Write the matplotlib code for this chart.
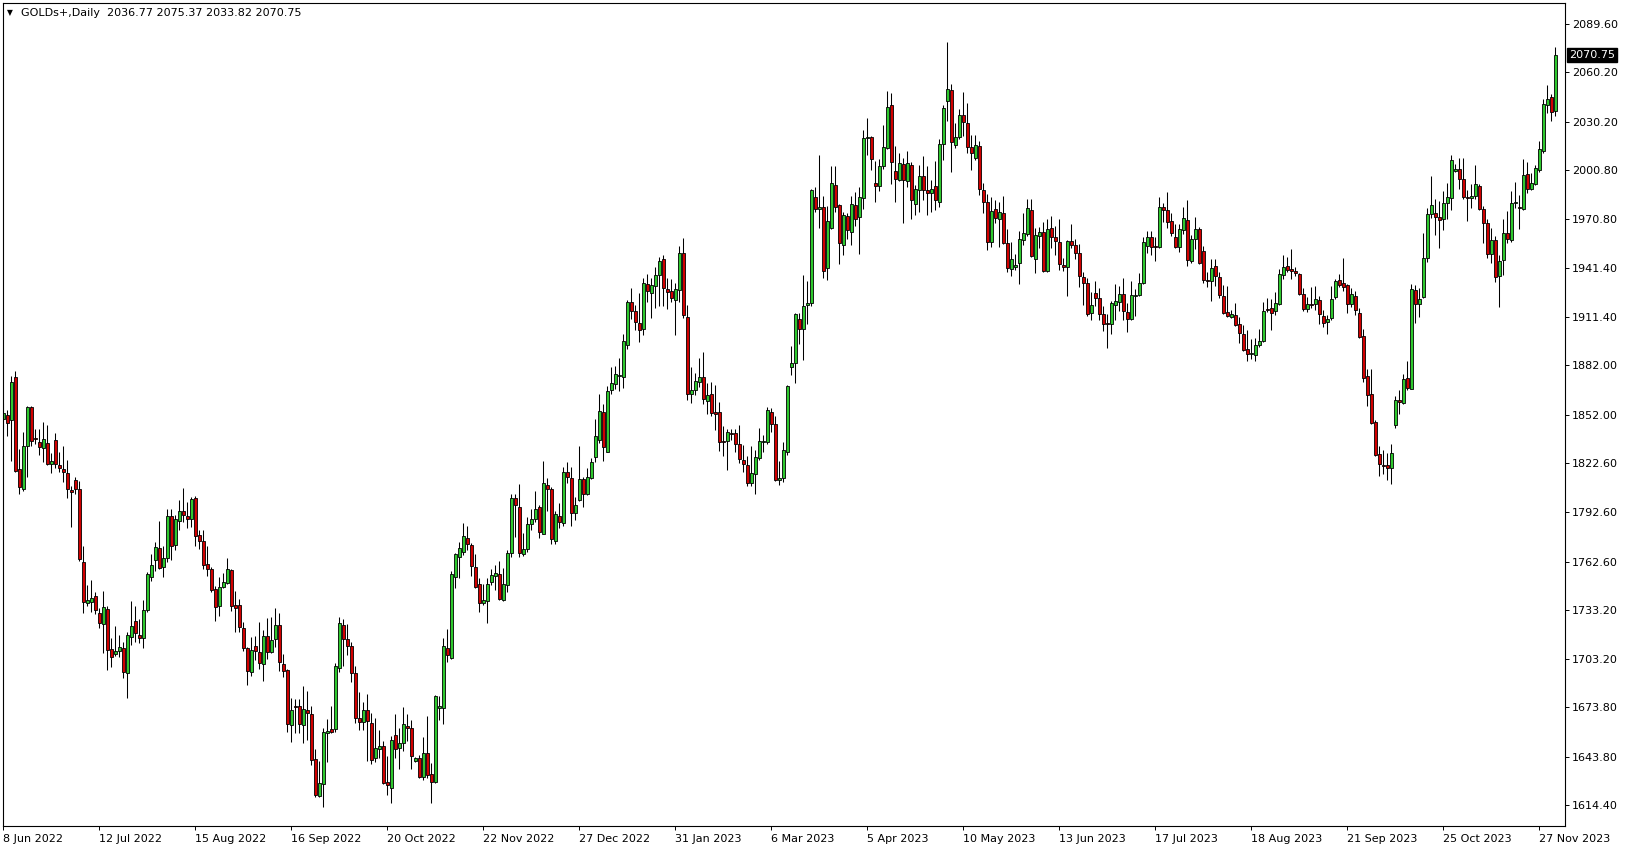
import numpy as np
import matplotlib
matplotlib.use('Agg')
import matplotlib.pyplot as plt
import matplotlib.transforms as mtransforms

# GOLDs+ Daily, Jun 2022 - Dec 2023
symbol = 'GOLDs+,Daily'

opens = [
    1849.1, 1851.5, 1848.5, 1874.7, 1818.7, 1806.5, 1832.9, 1856.4, 1837.8, 1835.1,
    1831.5, 1834.5, 1821.7, 1836.3, 1821.1, 1818.7, 1816.3, 1806.1, 1812.0, 1806.5,
    1762.1, 1737.2, 1737.8, 1741.4, 1731.1, 1724.4, 1733.5, 1709.2, 1706.1, 1707.9,
    1709.8, 1694.6, 1716.5, 1726.4, 1717.9, 1715.9, 1733.1, 1753.4, 1763.8, 1770.9,
    1759.5, 1764.6, 1790.3, 1772.9, 1787.1, 1793.2, 1790.1, 1788.3, 1801.3, 1778.6,
    1775.1, 1761.1, 1758.1, 1745.9, 1735.8, 1747.3, 1749.8, 1757.5, 1736.2, 1736.2,
    1722.0, 1709.8, 1695.6, 1711.4, 1707.4, 1700.1, 1717.1, 1707.4, 1715.3, 1723.8,
    1700.1, 1696.4, 1663.0, 1674.6, 1674.5, 1663.0, 1672.1, 1669.7, 1642.3, 1619.8,
    1627.1, 1658.1, 1660.5, 1661.0, 1697.6, 1723.8, 1715.3, 1711.0, 1694.6, 1667.2,
    1664.8, 1672.1, 1664.2, 1642.9, 1648.4, 1650.2, 1628.3, 1625.0, 1657.1, 1649.0,
    1652.0, 1662.6, 1661.3, 1641.5, 1643.1, 1631.3, 1645.9, 1633.1, 1628.7, 1673.3,
    1673.3, 1709.8, 1703.7, 1753.0, 1765.2, 1768.2, 1776.7, 1772.5, 1759.1, 1748.7,
    1737.2, 1738.4, 1750.0, 1753.6, 1754.8, 1739.0, 1748.1, 1767.6, 1801.0, 1795.6,
    1767.0, 1770.0, 1785.4, 1788.7, 1795.6, 1779.1, 1808.9, 1806.5, 1774.9, 1790.5,
    1785.8, 1817.1, 1813.2, 1791.9, 1799.8, 1812.6, 1803.5, 1813.2, 1826.0, 1836.3,
    1853.4, 1829.0, 1866.7, 1870.4, 1875.3, 1874.7, 1894.1, 1920.3, 1914.8, 1907.5,
    1903.9, 1931.2, 1925.8, 1930.0, 1936.7, 1946.4, 1928.2, 1927.0, 1921.5, 1927.6,
    1950.1, 1911.2, 1864.3, 1866.7, 1871.6, 1874.7, 1860.1, 1864.3, 1853.4, 1853.4,
    1835.7, 1835.7, 1840.6, 1840.6, 1833.9, 1824.2, 1821.1, 1810.2, 1815.6, 1825.4,
    1835.1, 1835.1, 1853.4, 1846.1, 1812.2, 1813.2, 1829.4, 1880.7, 1883.2, 1909.9,
    1903.9, 1918.7, 1919.7, 1984.1, 1976.9, 1978.1, 1941.0, 1965.3, 1991.5, 1979.3,
    1954.9, 1972.6, 1962.9, 1979.3, 1972.0, 1983.5, 2020.0, 2020.6, 1992.7, 1990.8,
    2003.0, 2014.0, 2040.1, 2000.0, 1994.5, 2004.2, 1994.3, 2003.6, 1979.9, 1988.4,
    1996.9, 1988.4, 1987.0, 1990.8, 1981.1, 2016.4, 2042.6, 2049.3, 2015.8, 2020.7,
    2034.0, 2029.2, 2014.6, 2007.9, 2015.2, 1988.4, 1981.1, 1956.8, 1976.9, 1970.8,
    1974.4, 1956.2, 1940.4, 1941.6, 1944.0, 1958.0, 1961.7, 1976.3, 1946.4, 1960.4,
    1962.9, 1939.1, 1965.3, 1959.8, 1956.8, 1942.8, 1941.6, 1957.4, 1955.0, 1950.1,
    1935.5, 1931.8, 1913.6, 1925.8, 1922.7, 1913.0, 1907.5, 1906.9, 1918.5, 1920.3,
    1925.2, 1914.2, 1909.9, 1923.9, 1924.5, 1931.8, 1954.3, 1959.8, 1954.3, 1953.7,
    1978.1, 1976.2, 1969.6, 1959.8, 1954.1, 1964.1, 1970.2, 1945.2, 1958.6, 1964.7,
    1951.3, 1933.7, 1933.0, 1942.2, 1935.5, 1923.9, 1914.2, 1911.2, 1912.4, 1906.9,
    1900.8, 1891.7, 1888.6, 1888.0, 1894.1, 1896.6, 1916.0, 1916.6, 1914.8, 1919.1,
    1936.7, 1942.2, 1940.4, 1939.1, 1937.3, 1925.2, 1916.0, 1919.1, 1919.1, 1921.5,
    1911.8, 1908.1, 1910.5, 1923.3, 1933.7, 1931.8, 1930.6, 1919.1, 1923.9, 1913.6,
    1899.6, 1875.3, 1864.3, 1847.3, 1827.8, 1821.1, 1821.1, 1819.3, 1845.5, 1860.7,
    1858.8, 1874.1, 1867.4, 1927.6, 1919.1, 1923.3, 1947.0, 1973.8, 1974.4, 1972.0,
    1970.8, 1980.5, 1983.5, 2000.0, 2001.2, 1995.1, 1984.1, 1983.5, 1984.7, 1990.8,
    1976.8, 1968.3, 1949.5, 1958.0, 1936.1, 1945.8, 1962.3, 1958.0, 1980.5, 1978.1,
    1976.8, 1998.1, 1989.0, 1992.1, 2000.6, 2012.1, 2040.1, 2045.0, 2036.77,
]

highs = [
    1858.8, 1854.8, 1875.5, 1878.5, 1831.1, 1841.4, 1857.2, 1857.0, 1843.2, 1843.2,
    1847.7, 1845.7, 1828.4, 1840.8, 1829.4, 1833.1, 1824.2, 1808.6, 1814.0, 1811.6,
    1772.0, 1748.3, 1751.4, 1744.1, 1734.1, 1744.5, 1735.5, 1715.9, 1723.4, 1717.9,
    1713.4, 1719.9, 1738.6, 1735.6, 1727.7, 1739.2, 1756.0, 1767.2, 1774.7, 1787.3,
    1772.1, 1794.6, 1794.6, 1790.9, 1800.1, 1807.1, 1798.6, 1801.7, 1802.2, 1781.8,
    1781.8, 1772.3, 1759.5, 1747.7, 1753.4, 1755.4, 1764.6, 1758.3, 1744.7, 1739.8,
    1726.0, 1710.8, 1716.9, 1717.5, 1726.0, 1721.0, 1728.5, 1728.7, 1734.1, 1731.1,
    1706.2, 1697.0, 1679.4, 1678.8, 1678.8, 1686.7, 1683.6, 1674.5, 1648.4, 1641.5,
    1661.5, 1666.6, 1674.5, 1700.7, 1728.7, 1727.5, 1724.4, 1713.9, 1699.3, 1683.0,
    1677.0, 1681.8, 1670.3, 1667.2, 1659.9, 1653.6, 1644.5, 1656.3, 1669.9, 1661.3,
    1674.1, 1669.9, 1666.2, 1643.5, 1644.7, 1655.9, 1668.6, 1639.8, 1681.2, 1680.6,
    1715.9, 1721.6, 1756.9, 1767.8, 1774.3, 1785.9, 1784.0, 1773.7, 1767.0, 1752.4,
    1748.7, 1752.4, 1757.9, 1760.3, 1762.7, 1758.5, 1769.4, 1803.5, 1803.7, 1809.5,
    1779.7, 1789.9, 1794.7, 1805.7, 1796.8, 1823.9, 1813.2, 1807.7, 1793.1, 1798.0,
    1820.3, 1823.1, 1819.9, 1802.0, 1832.7, 1813.8, 1819.3, 1825.4, 1849.1, 1864.3,
    1858.2, 1869.2, 1880.7, 1881.3, 1886.4, 1901.2, 1921.5, 1928.8, 1918.5, 1925.8,
    1934.9, 1937.3, 1934.9, 1941.6, 1947.9, 1948.9, 1934.9, 1934.3, 1931.8, 1954.3,
    1959.4, 1918.5, 1880.7, 1877.1, 1886.2, 1889.9, 1871.0, 1871.6, 1869.8, 1859.4,
    1844.8, 1843.0, 1843.0, 1843.4, 1845.5, 1833.3, 1826.6, 1832.7, 1830.2, 1843.6,
    1839.4, 1856.4, 1855.8, 1851.1, 1823.9, 1835.1, 1870.0, 1893.7, 1913.6, 1913.6,
    1936.7, 1933.1, 1989.0, 1990.2, 2009.7, 1984.8, 1978.7, 2003.0, 2003.0, 1980.3,
    1975.0, 1974.4, 1984.8, 1987.2, 1990.2, 2024.9, 2032.2, 2021.3, 2006.1, 2007.3,
    2027.9, 2048.6, 2047.4, 2015.2, 2010.9, 2007.9, 2012.3, 2005.9, 1991.5, 2003.6,
    2009.1, 2003.0, 1994.5, 2006.1, 2019.4, 2040.1, 2078.5, 2052.9, 2029.2, 2037.7,
    2048.0, 2041.3, 2021.9, 2021.9, 2018.2, 1992.7, 1986.0, 1984.2, 1982.3, 1981.1,
    1984.8, 1964.7, 1956.8, 1949.5, 1963.5, 1974.4, 1983.0, 1983.0, 1965.3, 1965.9,
    1968.9, 1970.8, 1972.6, 1966.5, 1970.8, 1947.0, 1958.0, 1967.7, 1958.6, 1955.6,
    1938.5, 1934.9, 1926.4, 1933.0, 1928.8, 1917.9, 1913.0, 1920.9, 1931.2, 1930.0,
    1934.9, 1919.7, 1933.0, 1928.2, 1937.9, 1959.8, 1963.5, 1963.5, 1959.8, 1984.2,
    1980.5, 1987.4, 1974.4, 1967.7, 1967.7, 1978.1, 1982.3, 1961.0, 1972.0, 1965.9,
    1954.3, 1938.5, 1946.4, 1946.4, 1938.5, 1930.6, 1930.0, 1915.4, 1919.7, 1911.2,
    1906.3, 1903.2, 1897.8, 1898.4, 1903.8, 1920.3, 1922.7, 1922.1, 1926.4, 1940.4,
    1948.9, 1947.7, 1952.5, 1941.6, 1937.9, 1928.8, 1923.3, 1929.4, 1930.0, 1923.9,
    1915.4, 1912.4, 1930.0, 1934.3, 1937.3, 1947.0, 1931.2, 1928.8, 1927.0, 1916.6,
    1903.9, 1879.5, 1879.5, 1848.5, 1832.7, 1830.2, 1828.4, 1833.9, 1863.1, 1866.9,
    1876.5, 1884.4, 1931.2, 1930.6, 1928.8, 1962.3, 1977.5, 1997.1, 1982.9, 1981.7,
    1987.8, 1992.7, 2009.7, 2004.6, 2007.9, 2007.9, 1988.4, 1992.1, 2003.8, 1992.1,
    1978.7, 1970.8, 1965.3, 1960.4, 1948.9, 1970.8, 1975.6, 1987.8, 1993.3, 1985.4,
    2007.3, 2005.4, 1998.8, 2003.6, 2018.2, 2043.8, 2052.3, 2046.8, 2075.37,
]

lows = [
    1843.6, 1839.2, 1824.0, 1817.3, 1803.9, 1805.8, 1814.2, 1833.1, 1833.9, 1827.4,
    1822.9, 1821.3, 1816.3, 1819.7, 1817.3, 1811.2, 1801.5, 1783.4, 1803.5, 1763.1,
    1731.1, 1735.3, 1731.7, 1730.5, 1722.0, 1706.7, 1696.4, 1698.2, 1704.9, 1704.3,
    1691.5, 1679.8, 1711.6, 1713.9, 1712.8, 1710.2, 1732.1, 1750.8, 1756.8, 1758.3,
    1753.4, 1762.1, 1763.8, 1769.8, 1782.0, 1786.5, 1782.8, 1783.8, 1771.9, 1770.2,
    1758.1, 1754.0, 1743.9, 1726.6, 1729.7, 1746.2, 1748.8, 1732.7, 1719.5, 1720.0,
    1708.4, 1687.5, 1693.0, 1702.7, 1697.0, 1690.1, 1703.1, 1707.0, 1710.4, 1695.8,
    1692.6, 1659.1, 1653.0, 1658.5, 1658.5, 1652.4, 1654.2, 1638.6, 1619.6, 1619.4,
    1613.5, 1640.5, 1658.1, 1658.7, 1695.2, 1699.3, 1705.6, 1689.5, 1664.2, 1660.0,
    1660.0, 1641.1, 1639.2, 1640.5, 1642.9, 1627.5, 1620.4, 1615.9, 1642.9, 1636.6,
    1647.6, 1653.6, 1636.6, 1640.5, 1630.7, 1629.7, 1630.7, 1615.5, 1628.1, 1666.0,
    1663.5, 1701.3, 1703.1, 1746.3, 1752.4, 1766.4, 1769.4, 1753.6, 1746.3, 1731.7,
    1735.9, 1725.0, 1748.1, 1745.1, 1739.0, 1738.4, 1743.9, 1765.5, 1777.7, 1765.1,
    1766.2, 1768.2, 1781.8, 1786.8, 1776.7, 1779.1, 1793.5, 1773.0, 1773.0, 1782.8,
    1784.2, 1810.2, 1784.0, 1787.6, 1799.2, 1795.9, 1802.9, 1812.6, 1822.9, 1834.5,
    1823.9, 1829.0, 1864.3, 1867.3, 1866.1, 1868.0, 1891.7, 1909.9, 1903.2, 1896.0,
    1900.2, 1920.3, 1910.9, 1916.6, 1917.8, 1917.8, 1916.0, 1920.3, 1900.2, 1920.3,
    1910.9, 1860.6, 1858.8, 1863.7, 1868.6, 1858.2, 1852.1, 1850.9, 1842.4, 1829.6,
    1826.6, 1818.1, 1836.3, 1829.0, 1822.3, 1816.9, 1808.3, 1808.3, 1803.5, 1824.2,
    1829.0, 1833.9, 1841.2, 1811.4, 1809.1, 1811.2, 1827.4, 1875.9, 1871.0, 1894.7,
    1885.0, 1906.9, 1917.8, 1975.0, 1965.3, 1934.9, 1933.7, 1964.8, 1975.0, 1943.4,
    1948.9, 1958.6, 1954.9, 1966.5, 1949.5, 1976.9, 2009.7, 2000.6, 1981.1, 1987.8,
    2001.2, 2013.4, 1992.1, 1981.1, 1993.9, 1968.7, 1990.2, 1971.2, 1973.6, 1975.4,
    1982.7, 1973.6, 1975.4, 1976.7, 1978.5, 2006.7, 2030.4, 1999.4, 2014.0, 2019.4,
    2021.3, 2010.9, 2000.6, 2006.7, 1985.4, 1974.4, 1951.9, 1953.7, 1968.3, 1953.7,
    1955.6, 1938.5, 1936.1, 1939.8, 1931.2, 1955.0, 1960.4, 1947.7, 1937.9, 1953.1,
    1938.5, 1938.5, 1953.1, 1948.9, 1939.7, 1939.1, 1923.9, 1953.1, 1946.4, 1929.4,
    1918.5, 1911.8, 1909.3, 1917.9, 1909.3, 1902.6, 1892.3, 1900.8, 1909.3, 1914.8,
    1909.3, 1902.0, 1909.3, 1911.8, 1923.9, 1931.2, 1950.1, 1948.9, 1945.2, 1953.1,
    1968.9, 1965.3, 1960.4, 1953.1, 1950.7, 1961.6, 1942.2, 1944.0, 1952.5, 1943.4,
    1931.8, 1929.4, 1920.9, 1930.0, 1922.7, 1913.0, 1911.2, 1910.5, 1905.7, 1895.3,
    1890.5, 1884.4, 1885.6, 1884.4, 1892.9, 1896.0, 1914.2, 1903.2, 1912.4, 1918.5,
    1934.3, 1938.5, 1934.3, 1936.1, 1924.5, 1914.8, 1914.2, 1916.6, 1915.4, 1906.9,
    1905.1, 1900.8, 1909.3, 1922.1, 1929.4, 1927.0, 1913.6, 1917.2, 1912.4, 1898.4,
    1871.6, 1857.0, 1846.1, 1826.6, 1814.4, 1815.6, 1812.0, 1809.6, 1843.6, 1852.2,
    1858.2, 1866.7, 1867.4, 1907.5, 1911.2, 1922.7, 1944.6, 1971.4, 1961.0, 1953.1,
    1964.1, 1970.8, 1976.2, 1999.5, 1989.0, 1982.9, 1969.6, 1977.5, 1982.9, 1976.2,
    1956.2, 1947.0, 1944.0, 1932.4, 1917.2, 1936.7, 1956.2, 1956.8, 1977.5, 1964.7,
    1976.2, 1986.6, 1988.4, 1991.5, 1999.4, 2010.9, 2035.3, 2030.4, 2033.82,
]

closes = [
    1852.8, 1847.1, 1871.6, 1817.7, 1807.7, 1832.9, 1856.6, 1836.1, 1836.9, 1832.1,
    1836.9, 1821.7, 1823.5, 1821.7, 1819.3, 1816.9, 1806.5, 1804.7, 1806.5, 1764.0,
    1737.8, 1739.0, 1740.2, 1732.9, 1725.0, 1734.7, 1708.6, 1704.3, 1707.9, 1710.4,
    1695.2, 1717.7, 1723.2, 1718.9, 1716.3, 1733.1, 1755.0, 1760.5, 1771.5, 1758.9,
    1764.6, 1790.3, 1772.3, 1788.7, 1793.2, 1791.1, 1788.7, 1800.7, 1778.4, 1774.9,
    1760.5, 1757.9, 1745.5, 1735.2, 1746.9, 1750.4, 1757.9, 1735.8, 1734.5, 1723.0,
    1709.8, 1696.2, 1708.8, 1708.4, 1701.1, 1717.1, 1707.4, 1714.7, 1723.8, 1701.3,
    1695.8, 1663.6, 1672.1, 1674.4, 1663.6, 1672.7, 1670.3, 1641.7, 1620.8, 1627.7,
    1658.7, 1659.3, 1659.1, 1698.9, 1725.0, 1715.3, 1711.0, 1694.6, 1667.2, 1664.8,
    1672.1, 1665.4, 1641.7, 1649.0, 1650.6, 1628.1, 1626.5, 1653.9, 1648.4, 1652.0,
    1663.8, 1661.5, 1644.1, 1643.1, 1631.3, 1645.9, 1632.5, 1628.7, 1680.6, 1674.5,
    1711.0, 1705.5, 1755.0, 1767.2, 1770.6, 1778.0, 1773.1, 1759.7, 1747.3, 1737.2,
    1739.0, 1748.7, 1754.2, 1755.4, 1740.0, 1748.7, 1767.6, 1801.0, 1796.8, 1767.6,
    1770.2, 1785.4, 1788.5, 1794.3, 1780.3, 1810.2, 1806.5, 1776.3, 1791.3, 1786.6,
    1817.1, 1813.8, 1791.9, 1796.8, 1812.6, 1803.5, 1813.8, 1822.9, 1838.8, 1854.0,
    1832.1, 1866.1, 1871.0, 1876.5, 1875.9, 1896.6, 1920.3, 1914.8, 1908.1, 1903.2,
    1931.8, 1927.0, 1930.6, 1936.7, 1945.2, 1928.8, 1926.4, 1922.7, 1928.2, 1950.1,
    1912.4, 1864.3, 1866.7, 1872.2, 1874.7, 1861.3, 1863.7, 1852.7, 1852.1, 1835.1,
    1835.1, 1841.2, 1840.0, 1833.9, 1824.8, 1821.7, 1810.2, 1816.3, 1826.0, 1835.7,
    1835.7, 1854.6, 1846.1, 1812.2, 1813.2, 1830.2, 1869.2, 1883.2, 1913.0, 1903.9,
    1917.8, 1919.7, 1988.4, 1976.9, 1978.1, 1939.1, 1969.6, 1992.7, 1978.1, 1956.2,
    1973.2, 1964.1, 1979.9, 1970.8, 1984.1, 2020.0, 2020.6, 2007.3, 1990.8, 2003.0,
    2014.6, 2038.9, 2005.4, 1995.1, 2004.8, 1994.5, 2004.8, 1982.3, 1989.0, 1996.9,
    1988.4, 1987.0, 1989.0, 1982.3, 2016.4, 2038.3, 2049.9, 2017.6, 2020.7, 2034.0,
    2029.8, 2014.6, 2010.9, 2015.8, 1989.0, 1981.5, 1956.8, 1975.6, 1971.4, 1975.0,
    1956.4, 1941.0, 1946.9, 1942.8, 1958.6, 1962.3, 1977.5, 1948.2, 1961.0, 1962.9,
    1939.1, 1964.7, 1959.8, 1957.4, 1943.4, 1941.6, 1957.4, 1955.0, 1950.1, 1936.1,
    1931.8, 1913.0, 1918.5, 1922.7, 1913.0, 1906.9, 1906.9, 1919.7, 1920.9, 1925.2,
    1914.8, 1909.9, 1924.5, 1924.5, 1931.8, 1956.8, 1959.8, 1953.7, 1953.7, 1978.1,
    1976.2, 1968.9, 1962.3, 1954.1, 1964.7, 1971.4, 1945.8, 1958.6, 1964.7, 1944.0,
    1933.7, 1933.0, 1941.0, 1936.1, 1924.5, 1913.6, 1911.8, 1913.0, 1906.3, 1901.4,
    1891.1, 1888.6, 1889.2, 1894.1, 1896.6, 1914.8, 1915.4, 1913.6, 1919.7, 1937.3,
    1941.6, 1939.7, 1939.1, 1937.9, 1925.2, 1916.0, 1919.1, 1918.5, 1922.1, 1913.0,
    1907.5, 1909.9, 1922.1, 1933.1, 1930.6, 1929.4, 1919.1, 1925.2, 1915.4, 1899.0,
    1874.1, 1863.7, 1846.7, 1827.2, 1821.7, 1820.5, 1819.3, 1828.4, 1860.7, 1859.4,
    1873.4, 1868.0, 1928.2, 1919.1, 1922.1, 1947.0, 1973.8, 1979.3, 1972.0, 1970.2,
    1980.5, 1984.1, 2006.7, 2001.2, 1995.1, 1984.1, 1983.5, 1984.7, 1992.1, 1976.8,
    1968.3, 1949.5, 1958.0, 1935.5, 1945.2, 1962.3, 1958.6, 1980.5, 1981.1, 1977.5,
    1997.6, 1989.0, 1992.7, 2001.8, 2013.4, 2040.7, 2043.8, 2035.9, 2070.75,
]

date_labels = ['8 Jun 2022', '12 Jul 2022', '15 Aug 2022', '16 Sep 2022', '20 Oct 2022',
               '22 Nov 2022', '27 Dec 2022', '31 Jan 2023', '6 Mar 2023', '5 Apr 2023',
               '10 May 2023', '13 Jun 2023', '17 Jul 2023', '18 Aug 2023', '21 Sep 2023',
               '25 Oct 2023', '27 Nov 2023']
label_step = 24  # one date label every 24 bars

price_ticks = [2089.60, 2060.20, 2030.20, 2000.80, 1970.80, 1941.40, 1911.40, 1882.00,
               1852.00, 1822.60, 1792.60, 1762.60, 1733.20, 1703.20, 1673.80, 1643.80,
               1614.40]

bull_color = '#2ec82e'
bear_color = '#d00000'

o = np.array(opens)
h = np.array(highs)
l = np.array(lows)
c = np.array(closes)
x = np.arange(len(o))
up = c >= o

W, H = 1629, 850
fig = plt.figure(figsize=(W / 100, H / 100), dpi=100)
fig.patch.set_facecolor('white')
ax = fig.add_axes([2.7 / W, 1 - 826 / H, (1565.3 - 2.7) / W, (826 - 2.7) / H])

# wicks, then bodies
ax.vlines(x, l, h, color='black', linewidth=0.75, zorder=1)
body = np.maximum(np.abs(c - o), 0.3)
ax.bar(x, body, bottom=np.minimum(o, c), width=0.78,
       color=np.where(up, bull_color, bear_color),
       edgecolor='black', linewidth=0.6, zorder=2)

ax.set_xlim(-0.15, 390.5)
ax.set_ylim(1601.7, 2102.6)

for s in ax.spines.values():
    s.set_linewidth(0.8)
    s.set_color('black')

ax.yaxis.tick_right()
ax.set_yticks(price_ticks)
ax.set_yticklabels([f'{v:.2f}' for v in price_ticks])
ax.tick_params(axis='y', direction='out', length=3, width=0.7, pad=2, labelsize=8)

xt = list(range(0, label_step * len(date_labels), label_step))
ax.set_xticks(xt)
ax.set_xticklabels(date_labels, ha='left')
ax.tick_params(axis='x', direction='out', length=3, width=0.7, pad=3, labelsize=8)

# last price marker on the price scale
trans = mtransforms.blended_transform_factory(ax.transAxes, ax.transData)
ax.text(1.0024, c[-1], f'{c[-1]:.2f}', transform=trans, color='white', fontsize=8,
        va='center', ha='left', zorder=5,
        bbox=dict(boxstyle='square,pad=0.18', fc='black', ec='black'))

# header line
fig.text(7 / W, 1 - 12.5 / H, '\u25bc', fontsize=5.5, va='center', ha='left')
fig.text(21 / W, 1 - 12.5 / H,
         f'{symbol}  {o[-1]:.2f} {h[-1]:.2f} {l[-1]:.2f} {c[-1]:.2f}',
         fontsize=8, va='center', ha='left')

fig.savefig('out.png', dpi=100, facecolor='white')
